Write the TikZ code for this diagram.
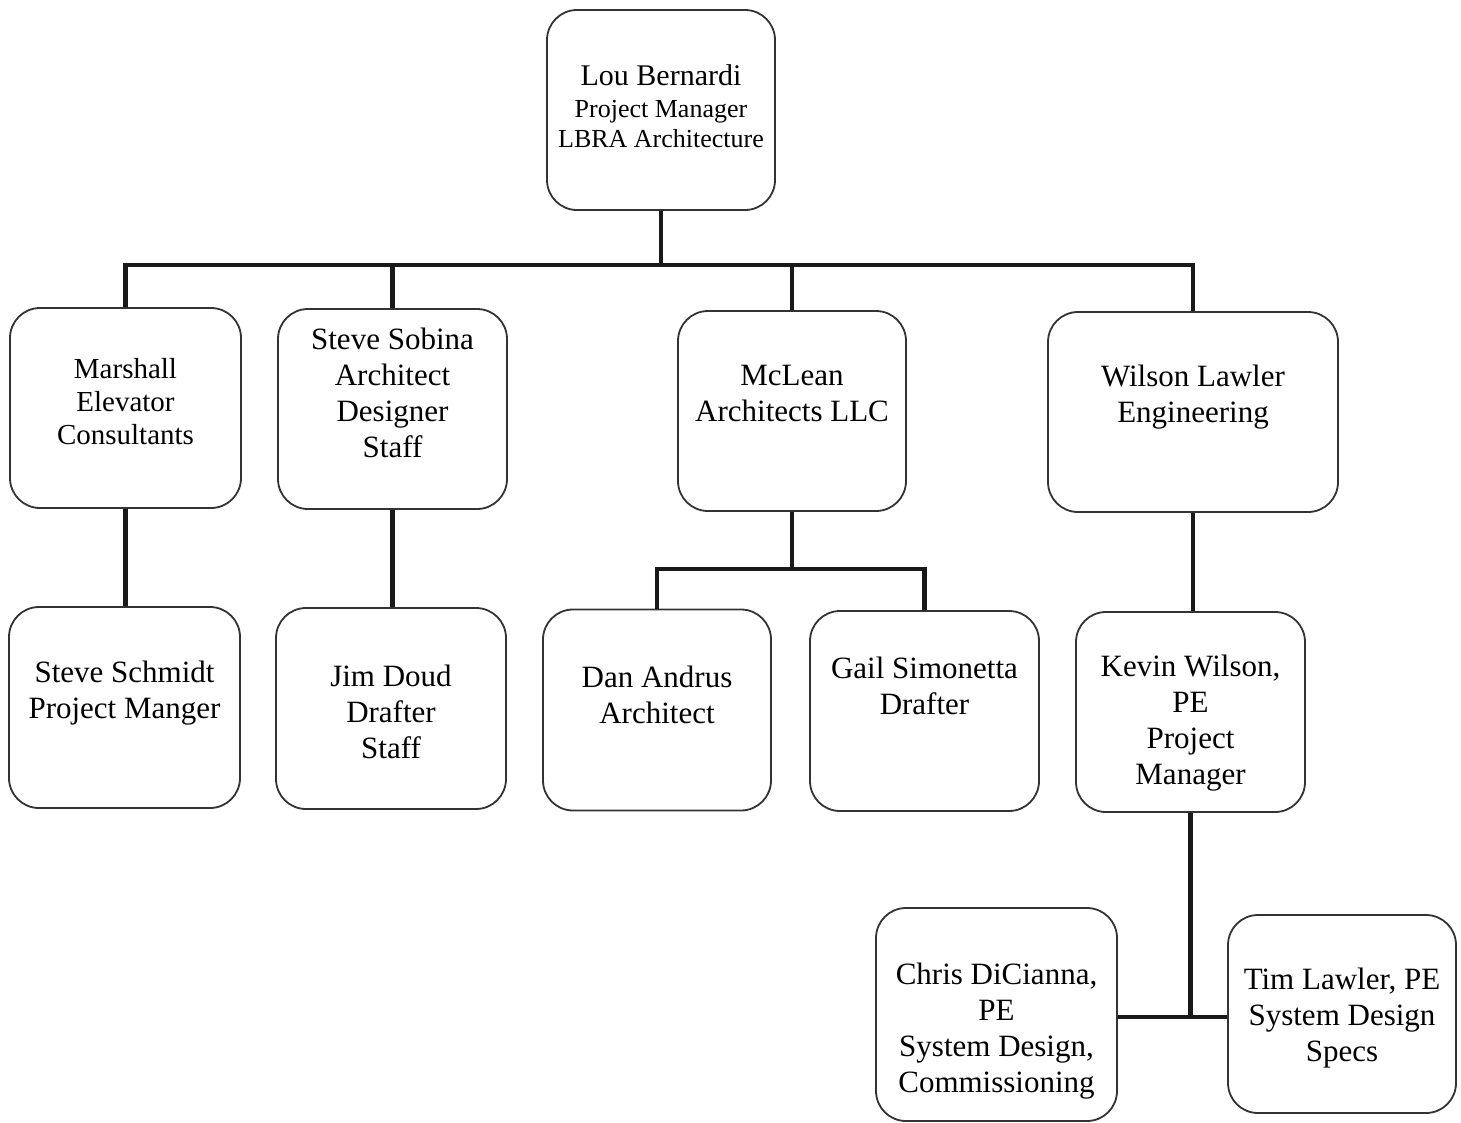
\documentclass[tikz,border=0pt]{standalone}
\usepackage{fontspec}
\setmainfont{Liberation Serif}
\tikzset{
  box/.style={draw=black!80, line width=1.8pt, rounded corners=30pt, minimum width=#1, inner sep=0pt},
  conn/.style={line width=4.5pt, draw=black!90},
  lbl/.style={align=center, inner sep=0pt, text=black, font=\fontsize{31}{36}\selectfont},
}
\begin{document}
\begin{tikzpicture}[x=1pt,y=-1pt]
\useasboundingbox[fill=white] (0,0) rectangle (1461,1122);
% boxes
\node[box=228pt, minimum height=200pt] (lou) at (661,110) {};
\node[box=231pt, minimum height=200pt] (marshall) at (125.5,408) {};
\node[box=229pt, minimum height=200pt] (sobina) at (392.5,409) {};
\node[box=228pt, minimum height=200pt] (mclean) at (792,411) {};
\node[box=290pt, minimum height=200pt] (wilson) at (1193,412) {};
\node[box=231pt, minimum height=201pt] (schmidt) at (124.5,707.5) {};
\node[box=230pt, minimum height=201pt] (doud) at (391,708.5) {};
\node[box=228pt, minimum height=201pt] (andrus) at (657,710) {};
\node[box=229pt, minimum height=200pt] (gail) at (924.5,711) {};
\node[box=229pt, minimum height=200pt] (kevin) at (1190.5,712) {};
\node[box=241pt, minimum height=213pt] (chris) at (996.5,1014.5) {};
\node[box=228pt, minimum height=198pt] (tim) at (1342,1014) {};
% texts
\node[lbl, font=\fontsize{30}{36}\selectfont] (lou-n) at (661,75) {Lou Bernardi};
\node[lbl, font=\fontsize{26}{30}\selectfont] (lou-t) at (661,124) {Project Manager\\LBRA Architecture};
\node[lbl, font=\fontsize{29}{33}\selectfont] (marshall-t) at (125.5,402) {Marshall\\Elevator\\Consultants};
\node[lbl] (sobina-t) at (392.5,393) {Steve Sobina\\Architect\\Designer\\Staff};
\node[lbl] (mclean-t) at (792,393) {McLean\\Architects LLC};
\node[lbl] (wilson-t) at (1193,397) {Wilson Lawler\\Engineering};
\node[lbl] (schmidt-t) at (124.5,693) {Steve Schmidt\\Project Manger};
\node[lbl] (doud-t) at (391,712) {Jim Doud\\Drafter\\Staff};
\node[lbl] (andrus-t) at (657,695) {Dan Andrus\\Architect};
\node[lbl] (gail-t) at (924.5,686) {Gail Simonetta\\Drafter};
\node[lbl] (kevin-t) at (1190.5,723) {Kevin Wilson,\\PE\\Project\\Manager};
\node[lbl] (chris-t) at (996.5,1031) {Chris DiCianna,\\PE\\System Design,\\Commissioning};
\node[lbl] (tim-t) at (1342,1018) {Tim Lawler, PE\\System Design\\Specs};
% connectors
\coordinate (bus) at (0,265);
\coordinate (mbus) at (0,569);
\coordinate (kbus) at (0,1017);
\draw[conn] (lou.south) -- (lou.south |- bus);
\draw[conn] (marshall.north) |- (wilson.north |- bus) -- (wilson.north);
\draw[conn] (sobina.north) -- (sobina.north |- bus);
\draw[conn] (mclean.north) -- (mclean.north |- bus);
\draw[conn] (marshall.south) -- (schmidt.north -| marshall.south);
\draw[conn] (sobina.south) -- (doud.north -| sobina.south);
\draw[conn] (mclean.south) -- (mclean.south |- mbus);
\draw[conn] (andrus.north) |- (gail.north |- mbus) -- (gail.north);
\draw[conn] (wilson.south) -- (kevin.north -| wilson.south);
\draw[conn] (kevin.south) -- (kevin.south |- kbus);
\draw[conn] (chris.east |- kbus) -- (tim.west |- kbus);
\end{tikzpicture}
\end{document}
